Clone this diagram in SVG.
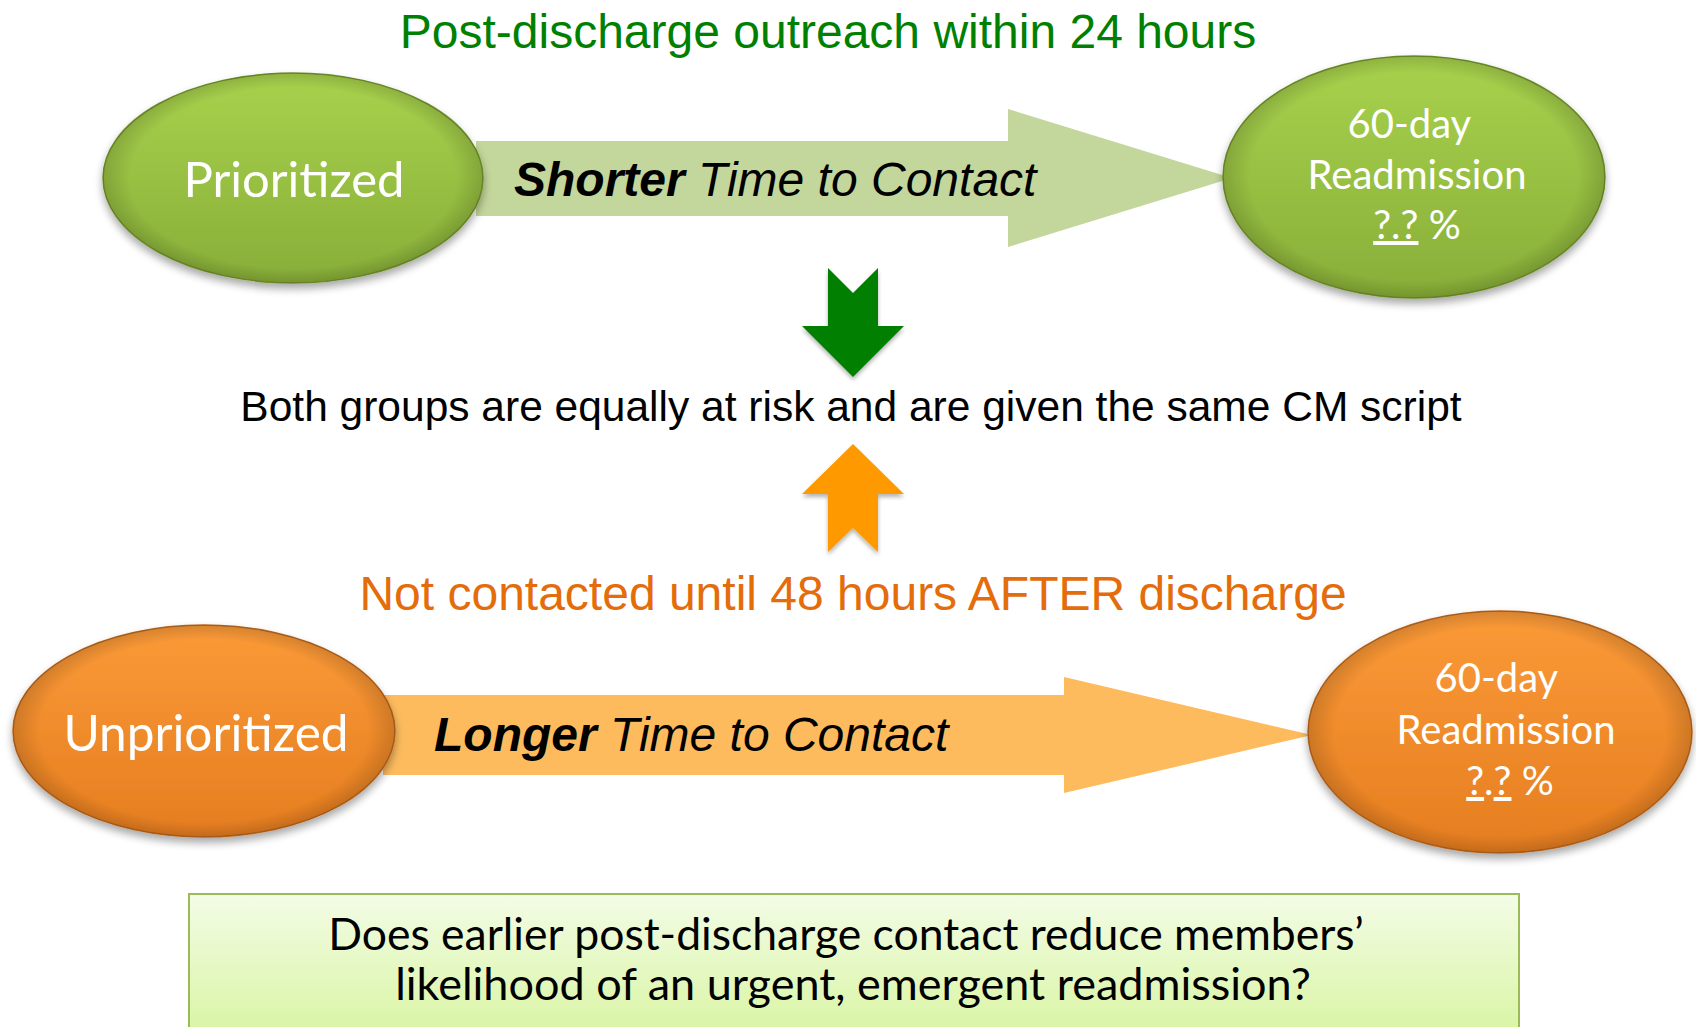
<svg xmlns="http://www.w3.org/2000/svg" width="1696" height="1027" viewBox="0 0 1696 1027">
  <defs>
    <linearGradient id="gGreen" x1="0" y1="0" x2="0" y2="1">
      <stop offset="0" stop-color="#a8d24d"/>
      <stop offset="1" stop-color="#88ae38"/>
    </linearGradient>
    <linearGradient id="gOrange" x1="0" y1="0" x2="0" y2="1">
      <stop offset="0" stop-color="#fb9a38"/>
      <stop offset="1" stop-color="#e57d1f"/>
    </linearGradient>
    <radialGradient id="gEdge" cx="0.5" cy="0.5" r="0.5">
      <stop offset="0.86" stop-color="#000" stop-opacity="0"/>
      <stop offset="1" stop-color="#000" stop-opacity="0.15"/>
    </radialGradient>
    <linearGradient id="gBox" x1="0" y1="0" x2="0" y2="1">
      <stop offset="0" stop-color="#f3fce6"/>
      <stop offset="1" stop-color="#d9f5a4"/>
    </linearGradient>
    <filter id="shadow" x="-10%" y="-10%" width="120%" height="130%">
      <feGaussianBlur in="SourceAlpha" stdDeviation="4"/>
      <feOffset dx="0" dy="5" result="b"/>
      <feComponentTransfer><feFuncA type="linear" slope="0.35"/></feComponentTransfer>
      <feMerge><feMergeNode/><feMergeNode in="SourceGraphic"/></feMerge>
    </filter>
    <filter id="shadowS" x="-20%" y="-20%" width="140%" height="140%">
      <feGaussianBlur in="SourceAlpha" stdDeviation="2"/>
      <feOffset dx="0" dy="3" result="b"/>
      <feComponentTransfer><feFuncA type="linear" slope="0.3"/></feComponentTransfer>
      <feMerge><feMergeNode/><feMergeNode in="SourceGraphic"/></feMerge>
    </filter>
  </defs>
  <style>
    .arial { font-family: "Liberation Sans", Arial, sans-serif; }
    .cal { font-family: Lato, "Open Sans", sans-serif; }
    .white { fill: #ffffff; }
    .ell-g { fill: url(#gGreen); stroke: #6f8f2a; stroke-width: 1.5; }
    .ell-o { fill: url(#gOrange); stroke: #b8651c; stroke-width: 1.5; }
    .edge { fill: url(#gEdge); }
  </style>

  <rect width="1696" height="1027" fill="#ffffff"/>

  <!-- connectors -->
  <g id="connectors">
    <polygon id="arrow-top" points="476,141 1008,141 1008,109 1232,178 1008,247 1008,216 476,216" fill="#c3d69b"/>
    <polygon id="arrow-bottom" points="383,695 1064,695 1064,677 1312,735 1064,793 1064,775 383,775" fill="#fdbb5e"/>
    <polygon id="arrow-down" points="828,268 853,293 878,268 878,326 904,326 853,377 802,326 828,326" fill="#007f00" filter="url(#shadowS)"/>
    <polygon id="arrow-up" points="853,444 904,494 878,494 878,552 853,528 828,552 828,494 802,494" fill="#ff9900" filter="url(#shadowS)"/>
  </g>

  <text class="arial" x="828" y="48" font-size="48" fill="#008000" text-anchor="middle">Post-discharge outreach within 24 hours</text>

  <g id="node-prioritized">
    <ellipse class="ell-g" cx="293" cy="178" rx="190" ry="105" filter="url(#shadow)"/>
    <ellipse class="edge" cx="293" cy="178" rx="190" ry="105"/>
    <text class="cal white" x="294" y="197" font-size="49" text-anchor="middle">Prioritized</text>
  </g>

  <text class="arial" x="514" y="196" font-size="48" font-style="italic"><tspan font-weight="bold">Shorter</tspan> Time to Contact</text>

  <g id="node-readmit-top">
    <ellipse class="ell-g" cx="1414" cy="177" rx="191" ry="121" filter="url(#shadow)"/>
    <ellipse class="edge" cx="1414" cy="177" rx="191" ry="121"/>
    <text class="cal white" font-size="40" text-anchor="middle">
      <tspan x="1414" y="138">60-day</tspan>
      <tspan x="1417" y="189">Readmission</tspan>
    </text>
    <text class="cal white" x="1417" y="239" font-size="40" text-anchor="middle"><tspan text-decoration="underline">?.?</tspan> %</text>
  </g>

  <text class="arial" x="851" y="421" font-size="42.5" text-anchor="middle" fill="#000">Both groups are equally at risk and are given the same CM script</text>

  <text class="arial" x="853" y="610" font-size="48" text-anchor="middle" fill="#e46c0a">Not contacted until 48 hours AFTER discharge</text>

  <g id="node-unprioritized">
    <ellipse class="ell-o" cx="204" cy="731" rx="191" ry="106" filter="url(#shadow)"/>
    <ellipse class="edge" cx="204" cy="731" rx="191" ry="106"/>
    <text class="cal white" x="206" y="751" font-size="49.5" text-anchor="middle">Unprioritized</text>
  </g>

  <text class="arial" x="434" y="751" font-size="48" font-style="italic"><tspan font-weight="bold">Longer</tspan> Time to Contact</text>

  <g id="node-readmit-bottom">
    <ellipse class="ell-o" cx="1500" cy="732" rx="192" ry="121" filter="url(#shadow)"/>
    <ellipse class="edge" cx="1500" cy="732" rx="192" ry="121"/>
    <text class="cal white" font-size="40" text-anchor="middle">
      <tspan x="1501" y="692">60-day</tspan>
      <tspan x="1506" y="744">Readmission</tspan>
    </text>
    <text class="cal white" x="1510" y="795" font-size="40" text-anchor="middle"><tspan text-decoration="underline">?</tspan>.<tspan text-decoration="underline">?</tspan> %</text>
  </g>

  <g id="node-question">
    <rect x="189" y="894" width="1330" height="140" fill="url(#gBox)" stroke="#9bbb59" stroke-width="2"/>
    <text class="cal" text-anchor="middle" fill="#000">
      <tspan x="848" y="950" font-size="44.5">Does earlier post-discharge contact reduce members’</tspan>
      <tspan x="853" y="1000" font-size="45">likelihood of an urgent, emergent readmission?</tspan>
    </text>
  </g>
</svg>
